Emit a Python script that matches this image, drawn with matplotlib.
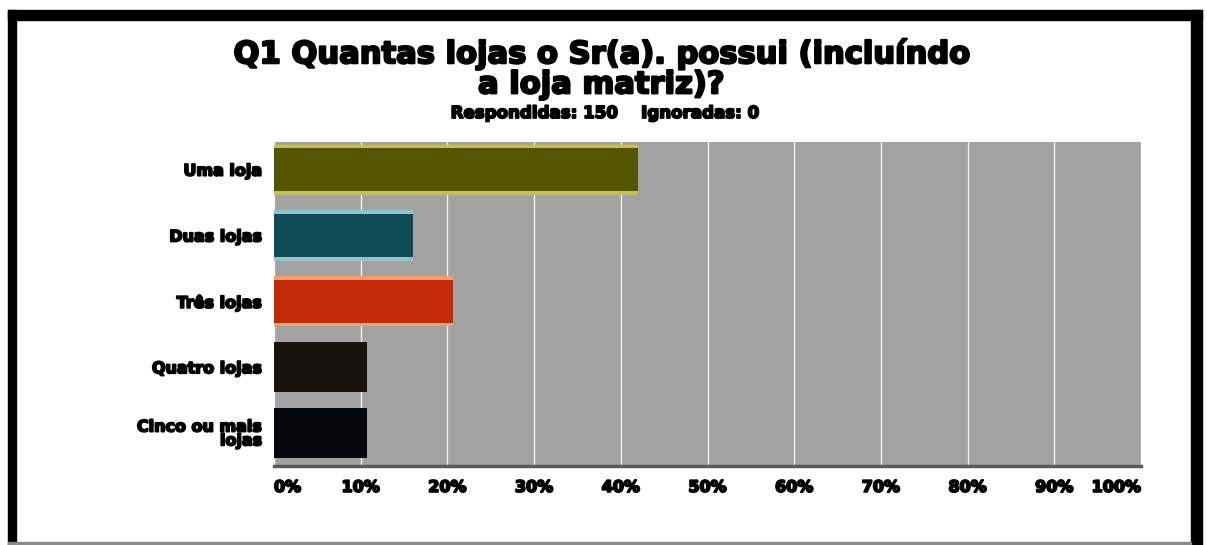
import matplotlib
matplotlib.use("Agg")
from matplotlib import pyplot as plt
from matplotlib.patches import Rectangle
import matplotlib.patheffects as pe
import numpy as np

# Chart data
categories = ["Uma loja", "Duas lojas", "Três lojas", "Quatro lojas", "Cinco ou mais\nlojas"]
percentages = [42.0, 16.0, 20.67, 10.67, 10.67]
bar_colors = ["#555500", "#0f4c57", "#c42a08", "#17130f", "#05080c"]
glow_colors = ["#c9c04a", "#8fc4cc", "#f0a070", "#17130f", "#05080c"]
tick_values = [0, 10, 20, 30, 40, 50, 60, 70, 80, 90, 100]
tick_labels = ["0%", "10%", "20%", "30%", "40%", "50%", "60%", "70%", "80%", "90%", "100%"]

title = "Q1 Quantas lojas o Sr(a). possui (incluíndo\na loja matriz)?"
subtitle = "Respondidas: 150    Ignoradas: 0"

plt.rcParams['font.family'] = ['DejaVu Sans']

W, H = 1207, 545
fig = plt.figure(figsize=(W / 100, H / 100), dpi=100)
fig.patch.set_facecolor("white")

# heavy look for the labels (reference uses a very wide black face)
heavy = [pe.withStroke(linewidth=1.3, foreground="black")]
heavy_title = [pe.withStroke(linewidth=1.6, foreground="black")]

# Frame round the picture (screenshot style)
def px_rect(x0, y0, x1, y1, color):
    fig.patches.append(Rectangle((x0 / W, 1 - y1 / H), (x1 - x0) / W, (y1 - y0) / H,
                                 transform=fig.transFigure, color=color, zorder=0))

px_rect(8, 10, 1202, 20, "black")      # top
px_rect(8, 10, 16, 545, "black")       # left
px_rect(1191, 10, 1202, 545, "black")  # right
px_rect(8, 542, 1191, 545, "#8a8a8a")  # bottom

# Plot area
ax = fig.add_axes([274 / W, 1 - 466 / H, (1141 - 274) / W, (466 - 142) / H])
ax.set_facecolor("#a2a2a2")

y = np.arange(len(categories))
ax.barh(y, percentages, height=0.76, color=glow_colors, zorder=2)
ax.barh(y, percentages, height=0.66, color=bar_colors, zorder=3)

ax.set_xlim(0, 100)
ax.set_ylim(4.5, -0.42)
ax.set_xticks(tick_values)
ax.set_xticklabels(tick_labels, fontsize=11.5, fontweight="bold")
for i, lab in enumerate(ax.get_xticklabels()):
    lab.set_path_effects(heavy)
    if i == 0:
        lab.set_horizontalalignment("left")
    elif i == len(tick_values) - 1:
        lab.set_horizontalalignment("right")
ax.set_yticks(y)
ax.set_yticklabels(categories, fontsize=11.5, fontweight="bold", linespacing=0.9)
for lab in ax.get_yticklabels():
    lab.set_path_effects(heavy)
ax.tick_params(axis="both", length=0)
ax.tick_params(axis="x", pad=10)
ax.tick_params(axis="y", pad=8.5)

ax.grid(axis="x", color="#f2f2f2", linewidth=1.0, zorder=1)
ax.set_axisbelow(True)
for side in ["top", "right", "left"]:
    ax.spines[side].set_visible(False)
ax.spines["bottom"].set_color("#5a5a5a")
ax.spines["bottom"].set_linewidth(2.5)

t = fig.text(601 / W, 1 - 69 / H, title, ha="center", va="center", fontsize=22,
             fontweight="bold", linespacing=1.05)
t.set_path_effects(heavy_title)
sub = fig.text(604 / W, 1 - 113 / H, subtitle, ha="center", va="center",
               fontsize=12, fontweight="bold")
sub.set_path_effects(heavy)

fig.savefig("out.png", dpi=100)
